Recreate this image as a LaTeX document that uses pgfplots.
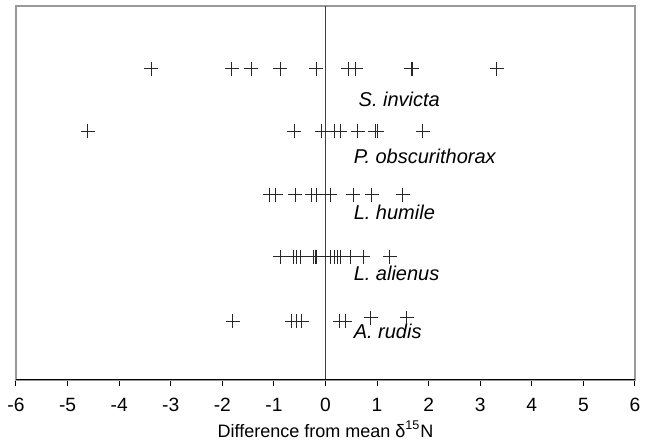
\documentclass[border=0pt]{standalone}
\usepackage{fontspec}
\setmainfont{Liberation Sans}
\usepackage{pgfplots}
\pgfplotsset{compat=1.18}
\begin{document}
\begin{tikzpicture}
\begin{axis}[
  name=ax,
  scale only axis,
  width=309.5bp, height=187bp,
  xmin=-6, xmax=6, ymin=0, ymax=6,
  axis line style={draw=black!40, line width=0.6bp},
  xtick={-6,-5,-4,-3,-2,-1,0,1,2,3,4,5,6},
  xticklabels={-6,-5,-4,-3,-2,-1,0,1,2,3,4,5,6},
  ytick=\empty,
  tick pos=bottom,
  tick align=outside,
  major tick length=3bp,
  tick style={black, line width=0.5bp},
  xticklabel style={font=\fontsize{9.6bp}{11bp}\selectfont, yshift=-2.5bp},
  xlabel={Difference from mean δ\textsuperscript{15}N},
  xlabel style={font=\fontsize{9bp}{11bp}\selectfont, yshift=2bp},
  clip=false,
]
\draw[black!75, line width=0.5bp] (axis cs:0,0) -- (axis cs:0,6);
\draw[black, line width=0.5bp] (axis cs:-6,0) -- (axis cs:6,0);
\addplot[only marks, mark=+, mark size=3.5bp, mark options={line width=0.5bp, black!85}] coordinates {
(-3.38,4.99) (-1.82,4.99) (-1.44,4.99) (-0.88,4.99) (-0.18,4.99) (0.44,4.99) (0.59,4.99) (1.66,4.99) (1.68,4.99) (3.32,4.99)
};
\addplot[only marks, mark=+, mark size=3.5bp, mark options={line width=0.5bp, black!85}] coordinates {
(-4.61,3.99) (-0.61,3.99) (-0.07,3.99) (0.18,3.99) (0.29,3.99) (0.63,3.99) (0.96,3.99) (1.00,3.99) (1.89,3.99)
};
\addplot[only marks, mark=+, mark size=3.5bp, mark options={line width=0.5bp, black!85}] coordinates {
(-1.08,2.97) (-0.96,2.97) (-0.59,2.97) (-0.27,2.97) (-0.17,2.97) (0.09,2.97) (0.54,2.97) (0.90,2.97) (1.50,2.97)
};
\addplot[only marks, mark=+, mark size=3.5bp, mark options={line width=0.5bp, black!85}] coordinates {
(-0.88,1.98) (-0.62,1.98) (-0.56,1.98) (-0.49,1.98) (-0.24,1.98) (-0.20,1.98) (-0.17,1.98) (0.10,1.98) (0.17,1.98) (0.23,1.98) (0.29,1.98) (0.49,1.98) (0.73,1.98) (1.25,1.98)
};
\addplot[only marks, mark=+, mark size=3.5bp, mark options={line width=0.5bp, black!85}] coordinates {
(-1.80,0.94) (-0.65,0.94) (-0.56,0.94) (-0.46,0.94) (0.28,0.94) (0.38,0.94) (0.88,1.0) (1.58,1.0)
};
\begin{scope}[every node/.style={anchor=base west, inner sep=0pt, font=\fontsize{10bp}{12bp}\selectfont\itshape}]
\node at (axis cs:0.636,4.385) {S. invicta};
\node at (axis cs:0.54,3.48) {P. obscurithorax};
\node at (axis cs:0.54,2.57) {L. humile};
\node at (axis cs:0.54,1.60) {L. alienus};
\node at (axis cs:0.54,0.67) {A. rudis};
\end{scope}
\end{axis}
\pgfresetboundingbox
\path ([xshift=-8bp,yshift=-32.5bp]ax.south west) rectangle ([xshift=7bp,yshift=3bp]ax.north east);
\end{tikzpicture}
\end{document}
